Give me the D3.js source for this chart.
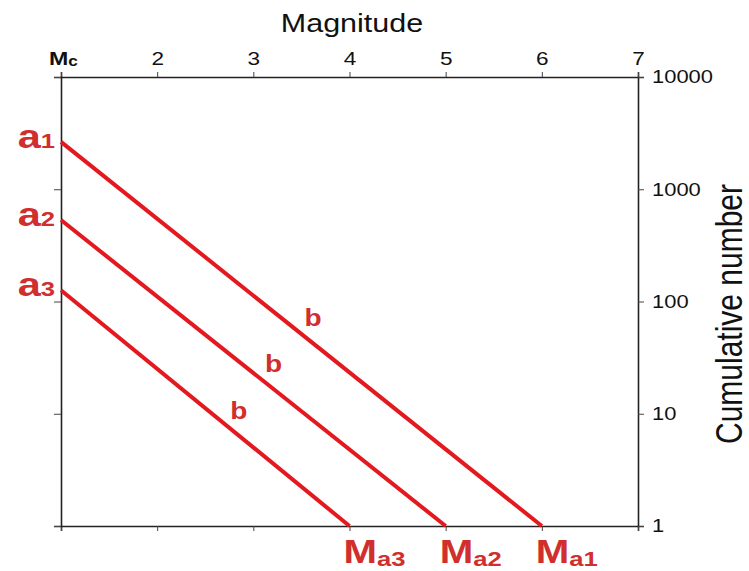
<!DOCTYPE html>
<html>
<head>
<meta charset="utf-8">
<script src="https://cdn.jsdelivr.net/npm/d3@7"></script>
<style>
  body{margin:0;background:#fff;}
  #chart{width:749px;height:571px;}
  text{font-family:"Liberation Sans",Arial,Helvetica,sans-serif;}
</style>
</head>
<body>
<div id="chart"></div>
<script>
// magnitude ticks (1 = Mc) and cumulative number ticks
var magTicks=[1,2,3,4,5,6,7];
var countTicks=[1,10,100,1000,10000];
// three G-R lines: a (count at Mc) and Ma (magnitude where count = 1)
var lineNames=["1","2","3"];
var aValues=[2640,532,126];
var maValues=[6,5,4];
var mc=1;
// where the "b" label sits along each line
var bLabelMag=[3.62,3.21,2.85];

var margin={"top":77,"right":111,"bottom":45,"left":61};
var svgwidth=749, svgheight=571;
var xwidth=svgwidth-margin.left-margin.right;
var yheight=svgheight-margin.top-margin.bottom;
var SX=1.22; // the picture is stretched sideways
var red="#e3191f", redText="#d12e2e";

var xscale=d3.scaleLinear()
             .domain([1,7])
             .range([0,xwidth]);
var yscale=d3.scaleLog()
             .domain([1,10000])
             .range([yheight,0]);

var svg=d3.select("#chart")
          .append("svg")
          .attr("width",svgwidth)
          .attr("height",svgheight);

var board=svg.append("g")
             .attr("transform","translate("+margin.left+","+margin.top+")");

function styleAxis(g){
    g.select(".domain").attr("stroke","#222").attr("stroke-width",1.6);
    g.selectAll(".tick line").attr("stroke","#444").attr("stroke-width",1);
    g.selectAll(".tick text")
     .attr("fill","#111")
     .attr("transform","scale("+SX+",1)");
}

// top axis with tick labels
var topAxis=board.append("g")
     .call(d3.axisTop(xscale).tickValues(magTicks).tickSize(5).tickPadding(7)
             .tickFormat(function(d){return d===mc?"":d;}))
     .attr("font-size",18.5)
     .call(styleAxis);
topAxis.selectAll(".tick")
       .filter(function(d){return d===mc;})
       .select("text")
       .attr("x",1.5)
       .call(function(t){
           t.append("tspan").text("M").style("font-weight","bold").style("font-size","19px");
           t.append("tspan").text("c").style("font-size","14px").style("font-weight","bold").attr("dy",1);
       });

// bottom axis, ticks only
board.append("g")
     .attr("transform","translate(0,"+yheight+")")
     .call(d3.axisBottom(xscale).tickValues(magTicks).tickSize(5).tickFormat(""))
     .call(styleAxis);

// left axis, ticks only
board.append("g")
     .call(d3.axisLeft(yscale).tickValues(countTicks).tickSize(7).tickFormat(""))
     .call(styleAxis);

// right axis with counts
board.append("g")
     .attr("transform","translate("+xwidth+",0)")
     .call(d3.axisRight(yscale).tickValues(countTicks).tickSize(6).tickPadding(5.5)
             .tickFormat(d3.format("d")))
     .attr("font-size",18)
     .call(styleAxis);

// axis titles
svg.append("text")
   .text("Magnitude")
   .attr("transform","translate(352,32) scale("+SX+",1)")
   .attr("text-anchor","middle")
   .style("font-size","25px")
   .attr("fill","#111");
svg.append("text")
   .text("Cumulative number")
   .attr("transform","translate(742,314) scale("+SX+",1) rotate(-90)")
   .attr("text-anchor","middle")
   .style("font-size","30px")
   .attr("fill","#111");

// lines
var lineData=lineNames.map(function(d,i){
    return [{m:mc,n:aValues[i]},{m:maValues[i],n:1}];
});
var line=d3.line()
           .x(function(d){return xscale(d.m);})
           .y(function(d){return yscale(d.n);});
board.selectAll("path.gr")
     .data(lineData)
     .enter()
     .append("path")
     .attr("class","gr")
     .attr("d",line)
     .attr("fill","none")
     .attr("stroke",red)
     .attr("stroke-width",4);

// a labels on the left
board.selectAll("text.alab")
     .data(lineNames)
     .enter()
     .append("text")
     .attr("class","alab")
     .attr("transform",function(d,i){
         return "translate(-6,"+(yscale(aValues[i])+6)+") scale("+SX+",1)";
     })
     .attr("text-anchor","end")
     .attr("fill",redText)
     .style("font-weight","bold")
     .call(function(t){
         t.append("tspan").text("a").style("font-size","34px");
         t.append("tspan").text(function(d){return d;}).style("font-size","21px");
     });

// Ma labels under the bottom axis
board.selectAll("text.malab")
     .data(lineNames)
     .enter()
     .append("text")
     .attr("class","malab")
     .attr("transform",function(d,i){
         return "translate("+(xscale(maValues[i])-6)+","+(yheight+37)+") scale("+SX+",1)";
     })
     .attr("fill",redText)
     .style("font-weight","bold")
     .call(function(t){
         t.append("tspan").text("M").style("font-size","33px");
         t.append("tspan").text(function(d){return "a"+d;}).style("font-size","21px").attr("dy",3);
     });

// b labels along the lines
board.selectAll("text.blab")
     .data(lineNames)
     .enter()
     .append("text")
     .attr("class","blab")
     .attr("transform",function(d,i){
         var m=bLabelMag[i];
         var logn=Math.log10(aValues[i])*(maValues[i]-m)/(maValues[i]-mc);
         return "translate("+xscale(m)+","+(yscale(Math.pow(10,logn))-17)+") scale("+SX+",1)";
     })
     .attr("text-anchor","middle")
     .attr("fill",redText)
     .style("font-weight","bold")
     .style("font-size","23px")
     .text("b");
</script>
</body>
</html>
